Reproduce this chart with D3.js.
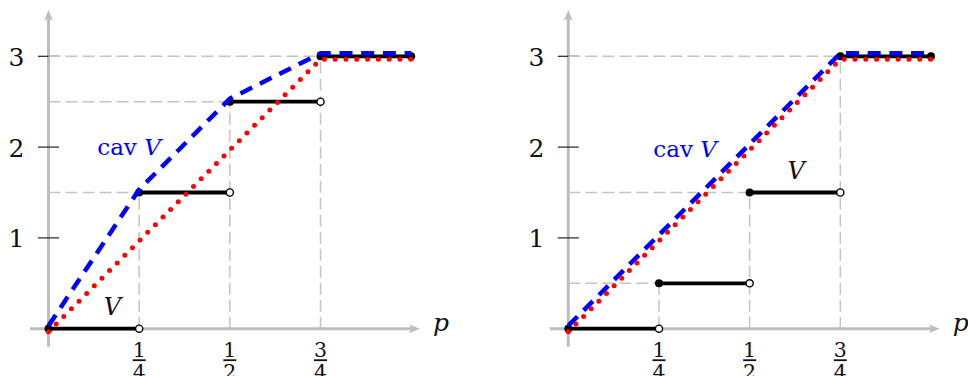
<!DOCTYPE html>
<html><head><meta charset="utf-8">
<script src="https://cdn.jsdelivr.net/npm/d3@7"></script>
<style>html,body{margin:0;padding:0;background:#fff;}svg{display:block;}</style>
</head><body>
<svg id="chart" width="968" height="376"></svg>
<script>
// ---- data ----
const breaks = [0, 0.25, 0.5, 0.75, 1];
const xTicks = [0.25, 0.5, 0.75];
const xTickNum = ["1", "1", "3"];
const xTickDen = ["4", "2", "4"];
const yTicks = [1, 2, 3];
const yTickLabels = ["1", "2", "3"];

// left panel
const valuesA = [0, 1.5, 2.5, 3];
const cavA = [[0, 0], [0.25, 1.5], [0.5, 2.5], [0.75, 3], [1, 3]];
const lineA = [[0, 0], [0.75, 3], [1, 3]];
const vLabelA = [0.176, 0.15];
const cavLabelA = [0.222, 1.91];

// right panel
const valuesB = [0, 0.5, 1.5, 3];
const cavB = [[0, 0], [0.75, 3], [1, 3]];
const lineB = [[0, 0], [0.75, 3], [1, 3]];
const vLabelB = [0.628, 1.65];
const cavLabelB = [0.322, 1.89];

const panels = [
  {ox: 48.5, values: valuesA, cav: cavA, line: lineA, vLabel: vLabelA, cavLabel: cavLabelA},
  {ox: 568.3, values: valuesB, cav: cavB, line: lineB, vLabel: vLabelB, cavLabel: cavLabelB}
];

// ---- scales ----
const x = d3.scaleLinear().domain([0, 1]).range([0, 362.7]);
const y = d3.scaleLinear().domain([0, 3]).range([328.7, 56.3]);
const FONT = "'DejaVu Serif', 'Liberation Serif', serif";
const AX = "#bdbdbd", GRID = "#c4c4c4";

const svg = d3.select("#chart");
const lineGen = d3.line().x(d => x(d[0])).y(d => y(d[1]));

panels.forEach(P => {
  const g = svg.append("g").attr("transform", `translate(${P.ox},0)`);

  // axes
  const x0 = x(-0.051), x1 = x(1.024);
  const yb = y(-0.2), yt = y(3.51);
  g.append("line").attr("x1", x0).attr("x2", x1 - 4).attr("y1", y(0)).attr("y2", y(0))
    .attr("stroke", AX).attr("stroke-width", 3);
  g.append("line").attr("x1", x(0)).attr("x2", x(0)).attr("y1", yb).attr("y2", yt + 4)
    .attr("stroke", AX).attr("stroke-width", 3);
  // arrowheads
  g.append("path")
    .attr("d", `M${x1},${y(0)} L${x1 - 11},${y(0) - 4.5} L${x1 - 8},${y(0)} L${x1 - 11},${y(0) + 4.5} Z`)
    .attr("fill", AX);
  g.append("path")
    .attr("d", `M${x(0)},${yt} L${x(0) - 4.5},${yt + 11} L${x(0)},${yt + 8} L${x(0) + 4.5},${yt + 11} Z`)
    .attr("fill", AX);

  // y ticks
  g.selectAll(".yt").data(yTicks).join("line")
    .attr("x1", x(0) - 10.5).attr("x2", x(0) + 10.5)
    .attr("y1", d => y(d)).attr("y2", d => y(d))
    .attr("stroke", "#222").attr("stroke-width", 1.2);
  g.selectAll(".ytl").data(yTicks).join("text")
    .attr("x", x(0) - 24).attr("y", d => y(d) + 9.5)
    .attr("text-anchor", "end").attr("font-family", FONT).attr("font-size", 25)
    .attr("fill", "#111")
    .text((d, i) => yTickLabels[i]);

  // x tick fraction labels
  xTicks.forEach((t, i) => {
    g.append("text").attr("x", x(t)).attr("y", y(0) + 28)
      .attr("text-anchor", "middle").attr("font-family", FONT).attr("font-size", 20.5)
      .attr("fill", "#111").text(xTickNum[i]);
    g.append("line").attr("x1", x(t) - 6.5).attr("x2", x(t) + 6.5)
      .attr("y1", y(0) + 31.5).attr("y2", y(0) + 31.5)
      .attr("stroke", "#111").attr("stroke-width", 1.8);
    g.append("text").attr("x", x(t)).attr("y", y(0) + 50.5)
      .attr("text-anchor", "middle").attr("font-family", FONT).attr("font-size", 20.5)
      .attr("fill", "#111").text(xTickDen[i]);
  });

  // p label
  g.append("text").attr("x", x(1.06)).attr("y", y(0) + 2)
    .attr("font-family", FONT).attr("font-size", 25).attr("font-style", "italic")
    .attr("fill", "#111").text("p");

  // grid dashed guides
  const guides = [1, 2, 3].map(i => ({bx: breaks[i], v: P.values[i]}));
  g.selectAll(".gv").data(guides).join("line")
    .attr("x1", d => x(d.bx)).attr("x2", d => x(d.bx))
    .attr("y1", y(0)).attr("y2", d => y(d.v))
    .attr("stroke", GRID).attr("stroke-width", 1.5).attr("stroke-dasharray", "12 5");
  g.selectAll(".gh").data(guides).join("line")
    .attr("x1", x(0)).attr("x2", d => x(d.bx))
    .attr("y1", d => y(d.v)).attr("y2", d => y(d.v))
    .attr("stroke", GRID).attr("stroke-width", 1.5).attr("stroke-dasharray", "12 5");

  // step function V
  const segs = P.values.map((v, i) => ({a: breaks[i], b: breaks[i + 1], v, last: i === P.values.length - 1}));
  g.selectAll(".seg").data(segs).join("line")
    .attr("x1", d => x(d.a)).attr("x2", d => x(d.b))
    .attr("y1", d => y(d.v)).attr("y2", d => y(d.v))
    .attr("stroke", "#000").attr("stroke-width", 3.8);
  g.selectAll(".dl").data(segs).join("circle")
    .attr("cx", d => x(d.a)).attr("cy", d => y(d.v)).attr("r", 4).attr("fill", "#000");
  g.selectAll(".dr").data(segs).join("circle")
    .attr("cx", d => x(d.b)).attr("cy", d => y(d.v))
    .attr("r", d => d.last ? 4 : 3.6)
    .attr("fill", d => d.last ? "#000" : "#fff")
    .attr("stroke", "#000").attr("stroke-width", d => d.last ? 0 : 1.4);

  // cav V (blue dashed), slightly raised
  g.append("path").attr("d", lineGen(P.cav)).attr("transform", "translate(0,-3)")
    .attr("fill", "none").attr("stroke", "#0000ff").attr("stroke-width", 4.5)
    .attr("stroke-dasharray", "13 8.7");

  // red dotted line, slightly lowered
  g.append("path").attr("d", lineGen(P.line)).attr("transform", "translate(0,3)")
    .attr("fill", "none").attr("stroke", "#ff0000").attr("stroke-width", 5)
    .attr("stroke-linecap", "round").attr("stroke-dasharray", "0 10.8");

  // labels
  g.append("text").attr("x", x(P.vLabel[0])).attr("y", y(P.vLabel[1]))
    .attr("text-anchor", "middle").attr("font-family", FONT).attr("font-size", 24)
    .attr("font-style", "italic").attr("fill", "#111").text("V");
  const t = g.append("text").attr("x", x(P.cavLabel[0])).attr("y", y(P.cavLabel[1]))
    .attr("text-anchor", "middle").attr("font-family", FONT).attr("font-size", 23)
    .attr("fill", "#0000ff");
  t.append("tspan").text("cav ");
  t.append("tspan").attr("font-style", "italic").text("V");
});
</script>
</body></html>
